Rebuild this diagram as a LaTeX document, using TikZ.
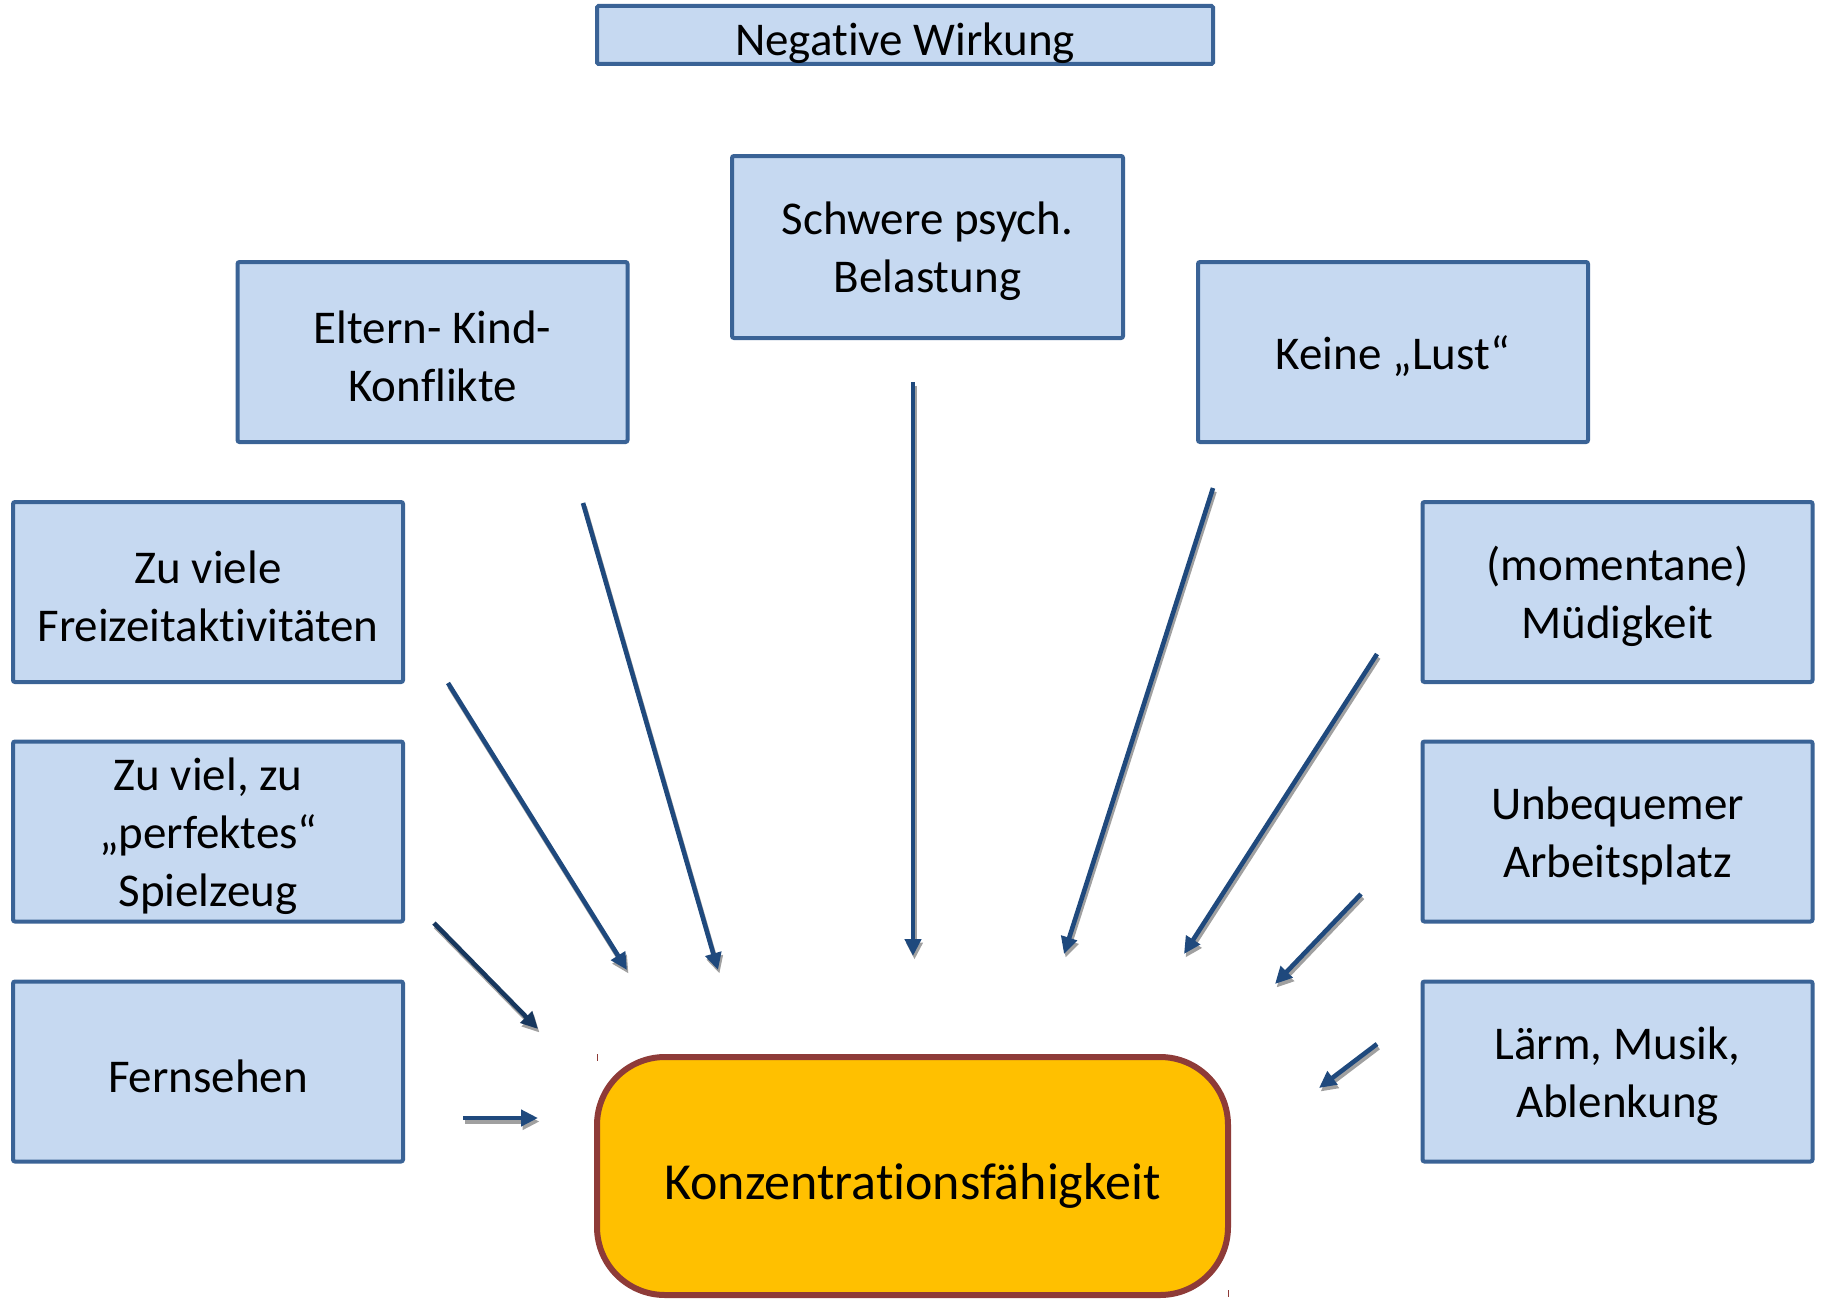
\documentclass[tikz,border=0pt]{standalone}
\usepackage{fontspec}
\setmainfont{Carlito}[Ligatures={NoCommon,NoContextual}, RawFeature={-liga;-clig;-calt}]
\usetikzlibrary{arrows.meta}
\definecolor{boxfill}{HTML}{C6D9F1}
\definecolor{boxline}{HTML}{3A6396}
\definecolor{arrblue}{HTML}{1F497D}
\definecolor{arrdark}{HTML}{17375E}
\definecolor{konzfill}{HTML}{FFC000}
\definecolor{konzline}{HTML}{8E3B38}
\definecolor{shadowgray}{HTML}{A0A0A0}
\tikzset{
  causebox/.style={draw=boxline, fill=boxfill, line width=4pt, rounded corners=2pt,
    minimum width=390pt, minimum height=180pt, align=center, inner sep=0pt,
    font=\fontsize{47}{58}\selectfont},
  boxtext/.style={align=center, inner sep=0pt, font=\fontsize{47}{58}\selectfont},
  titlebox/.style={draw=boxline, fill=boxfill, line width=4pt, rounded corners=1.5pt,
    minimum width=616pt, minimum height=58pt, inner sep=0pt},
  konzbox/.style={draw=konzline, fill=konzfill, line width=6pt, rounded corners=68pt,
    minimum width=631pt, minimum height=238pt, inner sep=0pt},
  arrowline/.style={line width=4.6pt, -{Triangle[length=17pt,width=16pt]}},
  arrshadow/.style={arrowline, draw=shadowgray},
}
\begin{document}
\begin{tikzpicture}[x=1pt,y=-1pt]
\useasboundingbox (0,0) rectangle (1825,1303);

% title
\node[titlebox] (title) at (905,35) {};
\node[boxtext] (titletext) at (905,43) {Negative Wirkung};

% cause boxes
\node[causebox, minimum width=391pt, minimum height=182pt] (schwere) at (927.5,247) {};
\node[boxtext] (schweretext) at (927.5,251) {Schwere psych.\\Belastung};
\node[causebox] (eltern) at (432.5,352) {};
\node[boxtext] (elterntext) at (432.5,356) {Eltern- Kind-\\Konflikte};
\node[causebox] (lust) at (1393,352) {};
\node[boxtext] (lusttext) at (1393,356) {Keine „Lust“};
\node[causebox] (freizeit) at (208,592) {};
\node[boxtext] (freizeittext) at (208,596) {Zu viele\\Freizeitaktivitäten};
\node[causebox] (spiel) at (208,831.5) {};
\node[boxtext] (spieltext) at (208,836) {Zu viel, zu\\„perfektes“\\Spielzeug};
\node[causebox] (tv) at (208,1071.5) {};
\node[boxtext] (tvtext) at (208,1076) {Fernsehen};
\node[causebox] (muede) at (1617.5,592) {};
\node[boxtext] (muedetext) at (1617.5,596) {(momentane)\\Müdigkeit};
\node[causebox] (platz) at (1617.5,831.5) {};
\node[boxtext] (platztext) at (1617.5,836) {Unbequemer\\Arbeitsplatz};
\node[causebox] (laerm) at (1617.5,1071.5) {};
\node[boxtext] (laermtext) at (1617.5,1076) {Lärm, Musik,\\Ablenkung};

% central box
\node[konzbox] (konz) at (912.5,1176) {};
\node[inner sep=0pt, font=\fontsize{52}{62}\selectfont] (konztext) at (912.5,1186) {Konzentrationsfähigkeit};
\draw[konzline, line width=1pt] (597,1054) -- (597,1061);
\draw[konzline, line width=1pt] (1228,1290) -- (1228,1297);

% arrow end points
\coordinate (a1s) at (448,683);  \coordinate (a1e) at (627,970);
\coordinate (a2s) at (583,503);  \coordinate (a2e) at (718,970);
\coordinate (a3s) at (913,382);  \coordinate (a3e) at (913,956);
\coordinate (a4s) at (1213,488); \coordinate (a4e) at (1064,954);
\coordinate (a5s) at (1377,654); \coordinate (a5e) at (1184,954);
\coordinate (a6s) at (1361,894); \coordinate (a6e) at (1275,984);
\coordinate (a7s) at (1377,1044);\coordinate (a7e) at (1319,1088);
\coordinate (a8s) at (434,923);  \coordinate (a8e) at (538,1029);
\coordinate (a9s) at (463,1118); \coordinate (a9e) at (538,1118);

% shadows
\foreach \i in {1,...,9} {
  \draw[arrshadow] ([xshift=1.5pt,yshift=-3.5pt]a\i s) -- ([xshift=1.5pt,yshift=-3.5pt]a\i e);
}
% arrows
\foreach \i in {1,2,3,4,5,6,7,9} {
  \draw[arrowline, arrblue] (a\i s) -- (a\i e);
}
\draw[arrowline, arrdark] (a8s) -- (a8e);
\end{tikzpicture}
\end{document}
